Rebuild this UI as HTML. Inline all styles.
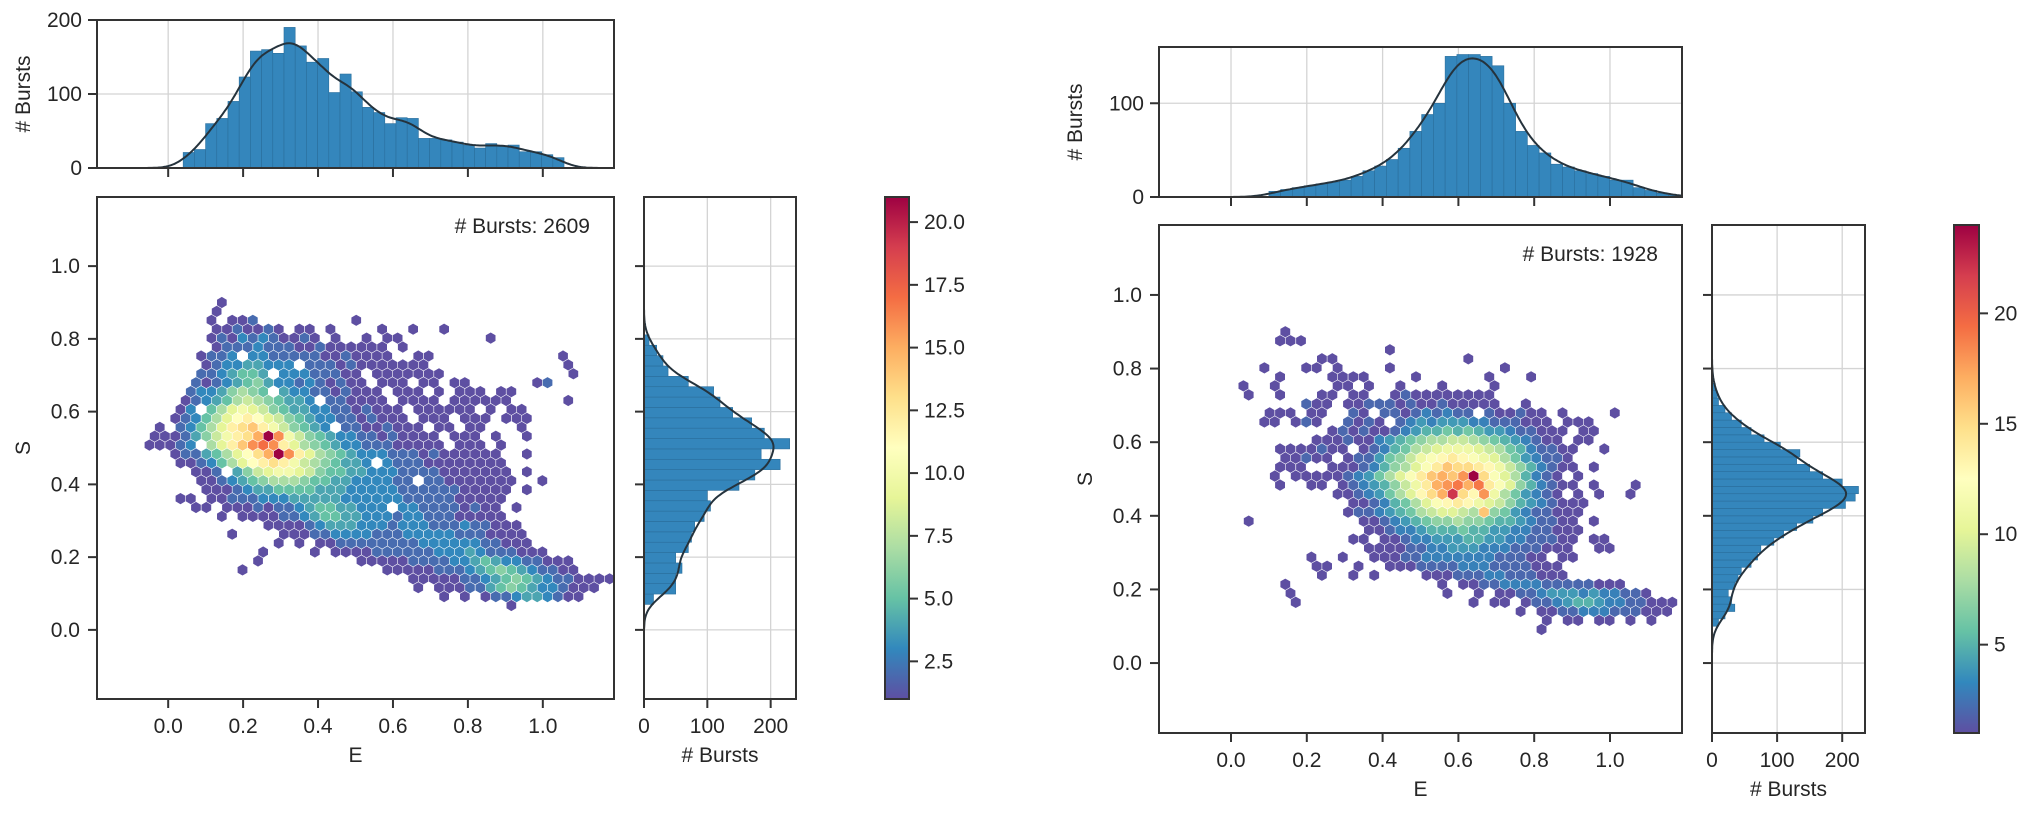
<!DOCTYPE html>
<html><head><meta charset="utf-8"><style>
html,body{margin:0;padding:0;background:#fff;}
svg{display:block;font-family:"Liberation Sans",Arial,sans-serif;}
</style></head><body>
<svg id="fig" width="2034" height="813" viewBox="0 0 2034 813" xmlns="http://www.w3.org/2000/svg">
<defs>
<linearGradient id="cmap" x1="0" y1="1" x2="0" y2="0">
<stop offset="0" stop-color="#5e4fa2"/><stop offset="0.1" stop-color="#3288bd"/><stop offset="0.2" stop-color="#66c2a5"/><stop offset="0.3" stop-color="#abdda4"/><stop offset="0.4" stop-color="#e6f598"/><stop offset="0.5" stop-color="#ffffbf"/><stop offset="0.6" stop-color="#fee08b"/><stop offset="0.7" stop-color="#fdae61"/><stop offset="0.8" stop-color="#f46d43"/><stop offset="0.9" stop-color="#d53e4f"/><stop offset="1" stop-color="#9e0142"/>
</linearGradient>
</defs>
</svg>
<script>
// ---------- DATA ----------
const leftEBinStart = 0.04, leftEBinWidth = 0.0299;
const leftECounts = [21,25,60,67,90,123,158,160,155,190,165,143,148,102,127,103,82,75,60,68,67,40,40,38,35,31,27,33,30,31,22,22,18,14];
const leftSBinStart = 0.07, leftSBinWidth = 0.0285;
const leftSCounts = [15,50,50,60,50,70,75,80,95,105,100,150,175,215,185,230,190,170,140,120,110,70,38,30,20,8];
// Left hexbin rows (top row S=0.900, step 0.0245); "startCol:v,v,v|..."
const leftHexRows = [
"7:1","6:1","6:1,0,1,1,2|20:1",
"6:1,1,2,1,1,2,1,0,1,1,0,1|22:1|25:1|28:1",
"6:1,2,1,3,2,3,2,1,1,2,1,0,1|21:1|23:1,1|33:1",
"6:1,2,2,2,3,2,2,2,1,1,2,1,1,1,1,1,1,0,1",
"5:1,2,2,3,0,3,3,2,2,2,2,2,1,1,2,1,1,1,1,0,0,1,1|40:1",
"5:1,2,3,3,4,4,3,3,3,0,2,2,2,1,2,1,1,1,1,1,1,1|40:1",
"5:2,2,3,4,5,5,4,0,3,3,3,2,2,2,1,1,0,1,1,1,1,1,1,1|41:1",
"4:2,1,2,3,4,5,6,4,3,3,2,3,2,1,2,1,1,0,1,1,1,0,1,1,0,1,1|37:1,2",
"4:2,3,3,4,6,7,6,5,0,4,3,3,2,2,1,2,1,1,1,0,1,1,1,0,1,0,1,1,1,0,1,1",
"3:1,2,3,4,5,7,8,7,6,5,4,4,3,0,2,2,1,1,1,1,0,1,1,1,1,0,1,1,1,1,1,1|40:1",
"3:1,3,0,5,7,9,10,9,8,6,5,4,4,3,3,2,2,1,2,1,1,1,0,1,1,1,1,1,1,0,1,0,1,1",
"2:1,2,3,5,7,9,11,12,11,9,8,6,5,4,3,3,2,2,1,2,1,1,1,0,1,1,1,0,1,1,1,0,1,1,1",
"1:1,0,2,3,5,7,9,12,13,14,12,10,8,6,5,4,3,0,2,2,1,1,2,1,1,1,0,1,1,0,1,1|36:1",
"0:1,1,1,2,4,6,8,10,12,13,15,21,16,10,8,6,5,4,3,3,2,2,1,2,1,1,1,1,0,1,1,1,0,1|36:1",
"0:1,1,1,2,3,0,7,9,12,14,16,17,16,12,9,7,6,5,4,3,3,2,2,2,1,1,1,1,1,0,1,1,1,0,1",
"2:1,2,2,4,5,7,9,11,13,15,21,16,12,9,7,6,5,4,3,3,3,2,2,2,1,2,1,1,1,1,1,1|36:1",
"3:1,1,2,3,5,7,9,11,12,13,12,10,8,7,6,5,4,4,3,0,3,2,2,2,1,1,1,1,1,1,1,1",
"4:1,1,2,0,4,6,8,9,10,10,9,8,6,5,5,4,4,3,3,3,2,2,2,2,1,1,1,1,1,1,1|36:1",
"5:1,1,2,3,4,5,6,7,7,7,6,5,5,4,4,3,3,3,3,2,2,0,2,2,1,1,1,1,1,1,1|38:1",
"5:1,1,1,2,3,4,4,5,5,5,5,4,4,4,3,3,3,3,3,2,2,2,2,2,2,1,1,1,1,1|36:1",
"3:1,1,0,1,1,2,2,2,3,3,3,4,4,4,4,4,3,3,3,3,3,3,2,2,2,2,2,1,1,1,1,1",
"4:1,1,0,1,1,1,2,1,2,2,3,4,5,5,4,4,3,3,3,0,3,3,2,2,2,2,1,2,1,1|35:1",
"7:1,0,1,1,1,1,2,2,3,4,5,5,4,4,3,3,3,2,3,3,2,2,2,1,1,1,1,1",
"11:1,1,1,1,2,3,4,4,4,3,3,3,2,3,3,3,2,2,2,3,2,2,1,1,1",
"8:1|13:1,1,1,2,2,3,3,3,3,2,2,2,3,3,3,3,3,2,2,2,1,1,1,1",
"12:1,0,1,0,1,1,2,2,2,2,2,2,2,2,3,3,3,3,3,3,2,2,1,1,1",
"11:1|16:1,0,1,1,1,1,2,2,2,2,2,2,3,3,3,4,3,2,2,2,1,1,1",
"10:1|20:1,1,1,1,1,2,2,2,2,3,3,4,5,4,3,3,2,2,1,1,1",
"9:1|23:1,1,1,1,1,2,2,2,3,4,5,6,5,4,3,2,2,1,1",
"25:1,1,1,1,1,2,2,3,4,5,6,5,4,3,2,2,1,1,1,1",
"26:1,0,1,1,1,2,2,4,5,6,5,4,3,3,2,1,1,1",
"28:1,0,1,0,1,2,2,3,4,4,3,2,1,1",
"35:1"
];
const rightEBinStart = 0.10, rightEBinWidth = 0.031;
const rightECounts = [6,8,10,12,14,16,18,22,28,33,40,52,70,88,100,150,152,152,150,140,100,70,55,47,35,32,28,25,22,18,18,10,7,4,2];
const rightSBinStart = 0.10, rightSBinWidth = 0.02;
const rightSCounts = [10,20,35,30,25,35,40,45,60,70,75,95,110,130,155,170,205,220,225,200,170,150,130,135,105,80,60,45,30,20,10,8,5];
const rightHexRows = [
"7:1","6:1,1,1","17:1","10:1,1|24:1",
"5:1|9:1,1,0,1|17:1|28:1",
"6:1|11:1,1,1,1|19:1|26:1|30:1",
"3:1|6:1|12:1,1,0,1|18:1|22:1|27:1",
"3:1|6:1|10:1,1,0,1,1,0,0,1,2,1,1,1,1,1,1,1,1",
"9:2,1,1,0,1,1,2,2,2,1,2,1,1,2,1,1,1,1,1,0,0,1",
"5:1,1,1,0,1,1|13:2,1,0,2,2,1,2,3,2,3,2,2,0,2,1,1,2,1,1,0,1|38:1",
"5:1,1,0,1,2,1|13:2,1,2,1,0,2,3,4,3,4,4,4,3,3,2,2,2,1,1,1,0,1,1,1",
"11:1,2,1,2,1,1,2,3,4,5,5,6,5,6,5,4,4,3,2,2,1,1,1,0,1,1",
"10:1,1,1,2,1,1,3,4,5,6,7,8,8,9,9,8,7,6,5,4,3,2,1,1,0,1,1",
"6:1,1,1,1,2,1,1,0,1,2,3,5,6,8,9,10,11,11,11,10,9,8,6,5,3,2,2,1,1|37:1",
"7:1,1,2,1,1,0,1,2,2,4,6,7,9,11,12,13,14,13,12,11,10,8,6,4,3,2,2,1",
"6:1,1,1,0,0,1,1,1,2,3,5,7,8,10,12,14,16,15,15,14,13,11,9,7,5,3,2,1,1,0,1",
"6:1,0,1,1,1,1,1,2,3,4,6,8,10,12,14,16,17,16,18,24,15,12,10,8,5,3,2,1,0,1",
"6:1|9:1,1,0,1,2,3,4,5,7,9,11,14,17,18,19,17,19,14,12,10,7,5,3,2,1,1,0,1|40:1",
"12:1,1,2,3,4,6,8,10,13,15,17,22,15,13,18,11,8,6,4,3,2,1,0,1,0,1|40:1",
"13:1,1,2,3,5,6,8,10,12,13,14,13,11,10,9,7,5,4,3,2,1,1,1",
"13:1,2,2,3,4,5,6,8,9,10,10,9,8,16,7,6,4,3,2,2,1,1,1",
"3:1|14:1,1,2,3,4,5,6,7,7,8,7,7,6,5,5,4,3,2,2,1,1,0,1",
"15:1,1,2,3,3,4,5,5,5,6,5,5,4,4,3,3,2,2,1,1,1",
"13:1,1,0,1,1,2,3,3,4,4,4,5,5,4,4,3,3,2,2,2,1,1,0,1,1",
"15:1,1,1,1,2,2,3,3,4,4,4,3,3,3,2,2,2,1,1,1,0,0,1,1",
"9:1|12:1|15:1,1,1,2,2,3,3,3,3,3,3,3,2,2,2,1,1,0,1,1",
"10:1,1|14:1|17:1,1,1,2,2,2,2,3,3,3,2,2,2,2,1,1,1",
"10:1|13:1|15:1|20:1,1,1,2,2,2,3,3,2,2,2,1,1,1",
"7:1|22:1,0,1,1,2,2,3,3,3,3,2,2,2,2,2,1,1,1",
"7:1|22:1|25:1,0,1,1,2,2,3,4,4,4,3,4,3,3,2,2,1",
"8:1|25:1,0,1,1,0,1,2,2,3,4,5,5,4,3,3,2,2,1,1,1",
"29:1,0,1,1,2,2,3,3,3,2,2,2,1,1,1",
"32:1,0,1,1,0,1,1,0,1,0,1",
"31:1"
];
const eTicks = [0.0, 0.2, 0.4, 0.6, 0.8, 1.0];
const eTickLabels = ["0.0","0.2","0.4","0.6","0.8","1.0"];
const sTicks = [0.0, 0.2, 0.4, 0.6, 0.8, 1.0];
const leftTopTicks = [0, 100, 200];
const rightTopTicks = [0, 100];
const margTicks = [0, 100, 200];
const leftCbarTicks = [2.5,5.0,7.5,10.0,12.5,15.0,17.5,20.0];
const leftCbarLabels = ["2.5","5.0","7.5","10.0","12.5","15.0","17.5","20.0"];
const rightCbarTicks = [5,10,15,20];
const rightCbarLabels = ["5","10","15","20"];
const burstTotals = ["# Bursts: 2609", "# Bursts: 1928"];

// ---------- HELPERS ----------
const NS = "http://www.w3.org/2000/svg";
const svg = document.getElementById("fig");
const SP = "#333", GRID = "#d4d4d4", BAR = "#3486bc", BAREDGE = "#2a6e9c", KDE = "#25333d";
function el(tag, attrs, parent){ const e=document.createElementNS(NS,tag); for(const k in attrs) e.setAttribute(k,attrs[k]); (parent||svg).appendChild(e); return e; }
function txt(s, x, y, size, anchor, parent, rot){ const t=el("text",{x:x,y:y,"font-size":size,"text-anchor":anchor||"middle",fill:"#262626"},parent); if(rot) t.setAttribute("transform","rotate("+rot+" "+x+" "+y+")"); t.textContent=s; return t; }
function lin(d0,d1,r0,r1){ return v=>r0+(v-d0)/(d1-d0)*(r1-r0); }
const spectral = ["#5e4fa2","#3288bd","#66c2a5","#abdda4","#e6f598","#ffffbf","#fee08b","#fdae61","#f46d43","#d53e4f","#9e0142"];
function hx(h){ return [parseInt(h.substr(1,2),16),parseInt(h.substr(3,2),16),parseInt(h.substr(5,2),16)]; }
function cmap(t){ t=Math.max(0,Math.min(1,t)); const p=t*10, i=Math.min(9,Math.floor(p)), f=p-i; const a=hx(spectral[i]), b=hx(spectral[i+1]); return "rgb("+a.map((v,k)=>Math.round(v+(b[k]-v)*f)).join(",")+")"; }
function parseRows(rows){ const cells=[]; rows.forEach((r,ri)=>{ r.split("|").forEach(seg=>{ const [s,vals]=seg.split(":"); vals.split(",").forEach((v,k)=>{ const n=+v; if(n>0) cells.push({r:ri,c:+s+k,v:n}); }); }); }); return cells; }
function kde(x, start, w, counts, h){ let s=0; counts.forEach((c,i)=>{ const xi=start+(i+0.5)*w; const z=(x-xi)/h; s+=c*Math.exp(-0.5*z*z); }); return s*w/(h*Math.sqrt(2*Math.PI)); }

function panel(cfg){
  const g = el("g",{});
  
  
  const X = lin(-0.19,1.19,cfg.mx0,cfg.mx1);
  const Y = lin(-0.19,1.19,cfg.my1,cfg.my0);

  const tg = el("g",{},g);
  
  
  const TY = lin(0,cfg.topMax,cfg.ty1,cfg.ty0);
  eTicks.forEach(t=>el("line",{x1:X(t),x2:X(t),y1:cfg.ty0,y2:cfg.ty1,stroke:GRID,"stroke-width":1.3},tg));
  cfg.topTicks.forEach(t=>el("line",{x1:cfg.mx0,x2:cfg.mx1,y1:TY(t),y2:TY(t),stroke:GRID,"stroke-width":1.3},tg));
  cfg.eCounts.forEach((c,i)=>{ const x0=X(cfg.eStart+i*cfg.eW), x1=X(cfg.eStart+(i+1)*cfg.eW);
    const b=el("rect",{x:x0,y:TY(c),width:x1-x0,height:TY(0)-TY(c),fill:BAR,stroke:BAREDGE,"stroke-width":0.6},tg);
    
     });
  let d=""; for(let k=0;k<=300;k++){ const e=-0.19+k*1.38/300; d+=(k?"L":"M")+X(e).toFixed(1)+","+TY(kde(e,cfg.eStart,cfg.eW,cfg.eCounts,cfg.eBw)).toFixed(1); }
  const kl=el("path",{d:d,fill:"none",stroke:KDE,"stroke-width":2},tg);
  
  
  el("rect",{x:cfg.mx0,y:cfg.ty0,width:cfg.mx1-cfg.mx0,height:cfg.ty1-cfg.ty0,fill:"none",stroke:SP,"stroke-width":2},tg);
  eTicks.forEach(t=>el("line",{x1:X(t),x2:X(t),y1:cfg.ty1,y2:cfg.ty1+9,stroke:SP,"stroke-width":2},tg));
  cfg.topTicks.forEach(t=>{ el("line",{x1:cfg.mx0-9,x2:cfg.mx0,y1:TY(t),y2:TY(t),stroke:SP,"stroke-width":2},tg); txt(String(t),cfg.mx0-15,TY(t)+7,21,"end",tg); });
  const tyl=txt("# Bursts",cfg.topYLabelX,(cfg.ty0+cfg.ty1)/2,21,"middle",tg,-90);
  
  

  const mg = el("g",{},g);
  
  
  const dxE=0.0276, dyS=0.0245, S0=0.900, E0=-0.05;
  const R=(X(dxE)-X(0))/Math.sqrt(3)*0.94;
  parseRows(cfg.hex).forEach(cell=>{
    const e=E0+cell.c*dxE+(cell.r%2?dxE/2:0), s=S0-cell.r*dyS;
    const cx=X(e), cy=Y(s); let pts=[];
    for(let k=0;k<6;k++){ const a=Math.PI/180*(60*k-90); pts.push((cx+R*Math.cos(a)).toFixed(1)+","+(cy+R*Math.sin(a)).toFixed(1)); }
    const col=cmap((cell.v-1)/(cfg.vmax-1));
    const p=el("polygon",{points:pts.join(" "),fill:col},mg);
    
    
  });
  el("rect",{x:cfg.mx0,y:cfg.my0,width:cfg.mx1-cfg.mx0,height:cfg.my1-cfg.my0,fill:"none",stroke:SP,"stroke-width":2},mg);
  eTicks.forEach((t,i)=>{ el("line",{x1:X(t),x2:X(t),y1:cfg.my1,y2:cfg.my1+9,stroke:SP,"stroke-width":2},mg); txt(eTickLabels[i],X(t),cfg.my1+34,21,"middle",mg); });
  sTicks.forEach((t,i)=>{ el("line",{x1:cfg.mx0-9,x2:cfg.mx0,y1:Y(t),y2:Y(t),stroke:SP,"stroke-width":2},mg); txt(eTickLabels[i],cfg.mx0-17,Y(t)+7,21,"end",mg); });
  const xl=txt("E",(cfg.mx0+cfg.mx1)/2,cfg.my1+63,21,"middle",mg);
  
  
  const yl=txt("S",cfg.sLabelX,(cfg.my0+cfg.my1)/2,21,"middle",mg,-90);
  
  
  const bt=txt(cfg.total,cfg.mx1-24,cfg.my0+36,21,"end",mg);
  
  

  const sg = el("g",{},g);
  
  
  const SX = lin(0,cfg.sideMax,cfg.sx0,cfg.sx1);
  sTicks.forEach(t=>el("line",{x1:cfg.sx0,x2:cfg.sx1,y1:Y(t),y2:Y(t),stroke:GRID,"stroke-width":1.3},sg));
  margTicks.forEach(t=>el("line",{x1:SX(t),x2:SX(t),y1:cfg.my0,y2:cfg.my1,stroke:GRID,"stroke-width":1.3},sg));
  cfg.sCounts.forEach((c,i)=>{ const y0=Y(cfg.sStart+(i+1)*cfg.sW), y1=Y(cfg.sStart+i*cfg.sW);
    const b=el("rect",{x:SX(0),y:y0,width:SX(c)-SX(0),height:y1-y0,fill:BAR,stroke:BAREDGE,"stroke-width":0.6},sg);
    
     });
  d=""; for(let k=0;k<=300;k++){ const s=-0.19+k*1.38/300; const v=kde(s,cfg.sStart,cfg.sW,cfg.sCounts,cfg.sBw); if(v<0.3 && (s<0||s>1)) continue; d+=(d?"L":"M")+SX(v).toFixed(1)+","+Y(s).toFixed(1); }
  const sk=el("path",{d:d,fill:"none",stroke:KDE,"stroke-width":2},sg);
  
  
  el("rect",{x:cfg.sx0,y:cfg.my0,width:cfg.sx1-cfg.sx0,height:cfg.my1-cfg.my0,fill:"none",stroke:SP,"stroke-width":2},sg);
  sTicks.forEach(t=>el("line",{x1:cfg.sx0-9,x2:cfg.sx0,y1:Y(t),y2:Y(t),stroke:SP,"stroke-width":2},sg));
  margTicks.forEach(t=>{ el("line",{x1:SX(t),x2:SX(t),y1:cfg.my1,y2:cfg.my1+9,stroke:SP,"stroke-width":2},sg); txt(String(t),SX(t),cfg.my1+34,21,"middle",sg); });
  const sl=txt("# Bursts",(cfg.sx0+cfg.sx1)/2,cfg.my1+63,21,"middle",sg);
  
  

  const cg = el("g",{},g);
  
  
  const CY = lin(1,cfg.vmax,cfg.my1,cfg.my0);
  el("rect",{x:cfg.cx0,y:cfg.my0,width:cfg.cx1-cfg.cx0,height:cfg.my1-cfg.my0,fill:"url(#cmap)",stroke:SP,"stroke-width":2},cg);
  cfg.cTicks.forEach((t,i)=>{ el("line",{x1:cfg.cx1,x2:cfg.cx1+9,y1:CY(t),y2:CY(t),stroke:SP,"stroke-width":2},cg); txt(cfg.cLabels[i],cfg.cx1+15,CY(t)+7,21,"start",cg); });
}

panel({name:"left-joint-plot", mx0:97,mx1:614,my0:197,my1:699, ty0:20,ty1:168, topMax:200, topTicks:leftTopTicks, topYLabelX:30, sLabelX:30,
  eStart:leftEBinStart,eW:leftEBinWidth,eCounts:leftECounts,eBw:0.035,
  sStart:leftSBinStart,sW:leftSBinWidth,sCounts:leftSCounts,sBw:0.03,
  hex:leftHexRows, vmax:21, total:burstTotals[0],
  sx0:644,sx1:796,sideMax:240, cx0:885,cx1:909, cTicks:leftCbarTicks, cLabels:leftCbarLabels});
panel({name:"right-joint-plot", mx0:1159,mx1:1682,my0:225,my1:733, ty0:47,ty1:197, topMax:160, topTicks:rightTopTicks, topYLabelX:1082, sLabelX:1092,
  eStart:rightEBinStart,eW:rightEBinWidth,eCounts:rightECounts,eBw:0.04,
  sStart:rightSBinStart,sW:rightSBinWidth,sCounts:rightSCounts,sBw:0.03,
  hex:rightHexRows, vmax:24, total:burstTotals[1],
  sx0:1712,sx1:1865,sideMax:235, cx0:1954,cx1:1979, cTicks:rightCbarTicks, cLabels:rightCbarLabels});
</script>
</body></html>
